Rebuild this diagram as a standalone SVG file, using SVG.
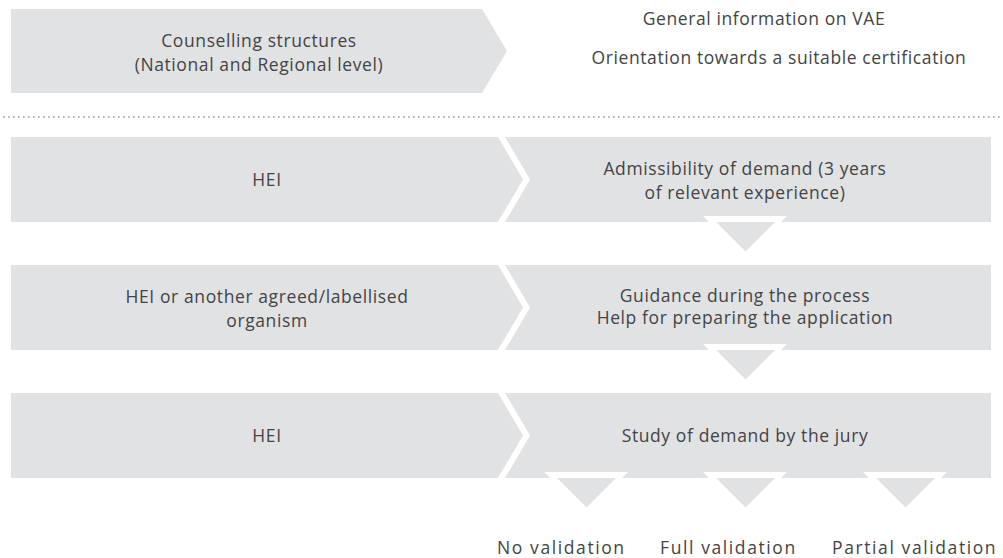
<svg xmlns="http://www.w3.org/2000/svg" width="1003" height="558" viewBox="0 0 1003 558">
<style>
.band{fill:#e1e2e4}
.t{font-family:"Open Sans","Liberation Sans",sans-serif;font-size:17.5px;font-weight:400;fill:#444444;text-anchor:middle;letter-spacing:0.6px}
.l{font-family:"Open Sans","Liberation Sans",sans-serif;font-size:17.5px;font-weight:400;fill:#444444;letter-spacing:1.6px}
.halo{fill:#ffffff}
.tri{fill:#e1e2e4}
</style>
<rect width="1003" height="558" fill="#ffffff"/>
<g id="counselling">
<polygon class="band" points="11,9 482,9 507,51 482,93 11,93"/>
<text class="t" x="259" y="47">Counselling structures</text>
<text class="t" x="259" y="71">(National and Regional level)</text>
</g>
<g id="info">
<text class="t" x="764" y="25">General information on VAE</text>
<text class="t" x="779" y="64">Orientation towards a suitable certification</text>
</g>
<line x1="3" y1="117" x2="1003" y2="117" stroke="#9a9a9a" stroke-width="1.6" stroke-dasharray="1.6 3.4"/>
<g id="row-hei-1">
<polygon class="band" points="11,137 498,137 523,179.5 498,222 11,222"/>
<text class="t" x="267" y="186">HEI</text>
</g>
<g id="admissibility">
<polygon class="band" points="505,137 991,137 991,222 505,222 530,179.5"/>
<text class="t" x="745" y="175">Admissibility of demand (3 years</text>
<text class="t" x="745" y="199">of relevant experience)</text>
</g>
<g id="row-organism">
<polygon class="band" points="11,265 498,265 523,307.5 498,350 11,350"/>
<text class="t" x="267" y="303">HEI or another agreed/labellised</text>
<text class="t" x="267" y="327">organism</text>
</g>
<g id="guidance">
<polygon class="band" points="505,265 991,265 991,350 505,350 530,307.5"/>
<text class="t" x="745" y="302">Guidance during the process</text>
<text class="t" x="745" y="324">Help for preparing the application</text>
</g>
<g id="row-hei-2">
<polygon class="band" points="11,393 498,393 523,435.5 498,478 11,478"/>
<text class="t" x="267" y="442">HEI</text>
</g>
<g id="jury">
<polygon class="band" points="505,393 991,393 991,478 505,478 530,435.5"/>
<text class="t" x="745" y="442">Study of demand by the jury</text>
</g>
<g id="connectors">
<polygon class="halo" points="703,216 787,216 745,258"/>
<polygon class="tri" points="716,222 775,222 745.5,251.5"/>
<polygon class="halo" points="703,344 787,344 745,386"/>
<polygon class="tri" points="716,350 775,350 745.5,379.5"/>
<polygon class="halo" points="544,472 628,472 586,514"/>
<polygon class="tri" points="557,478 616,478 586.5,507.5"/>
<polygon class="halo" points="703,472 787,472 745,514"/>
<polygon class="tri" points="716,478 775,478 745.5,507.5"/>
<polygon class="halo" points="863,472 947,472 905,514"/>
<polygon class="tri" points="876,478 935,478 905.5,507.5"/>
</g>
<g id="outcomes">
<text class="l" x="497" y="554">No validation</text>
<text class="l" x="660" y="554">Full validation</text>
<text class="l" x="832" y="554">Partial validation</text>
</g>
</svg>
